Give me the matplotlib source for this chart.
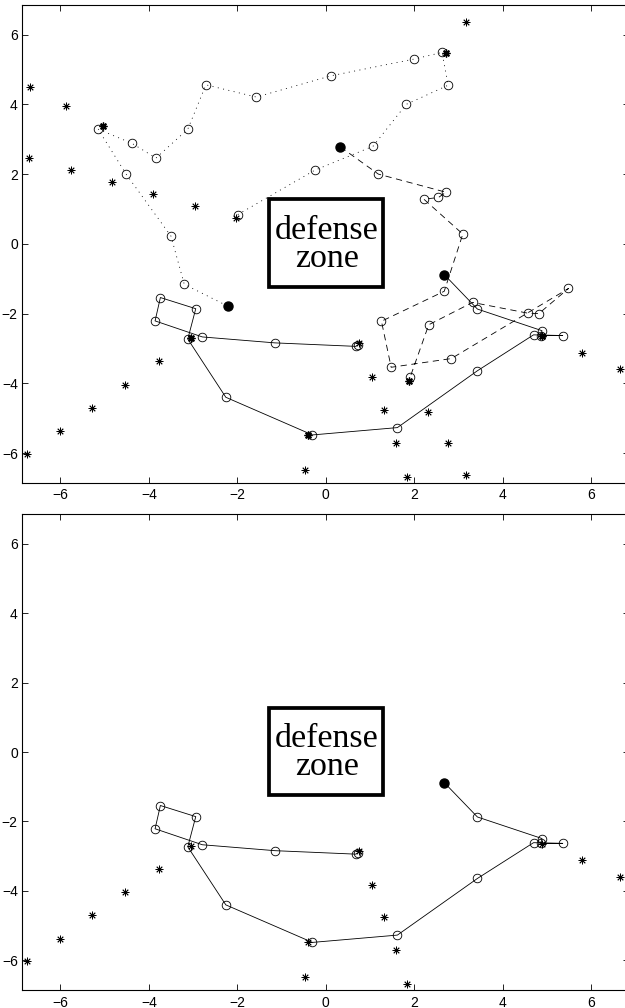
"""Two panels: player trajectories around the defense zone."""

import matplotlib
matplotlib.use("Agg")
import matplotlib.pyplot as plt
from matplotlib.patches import Rectangle

plt.rcParams['font.family'] = 'Liberation Sans'
plt.rcParams['lines.scale_dashes'] = False

# =============================================================================
# Trajectories (open circles)
dotted_x = [-1.99, -0.25, 1.07, 1.82, 2.77, 2.63, 2.00, 0.12, -1.57, -2.71,
            -3.12, -3.84, -4.38, -5.15, -4.51, -3.50, -3.20]
dotted_y = [0.84, 2.11, 2.80, 4.00, 4.55, 5.49, 5.30, 4.82, 4.21, 4.56,
            3.29, 2.46, 2.88, 3.29, 1.99, 0.22, -1.16]
dotted_end = (-2.21, -1.79)

dashed_x = [1.19, 2.72, 2.55, 2.22, 3.10, 2.68, 1.26, 1.48, 2.84, 5.49,
            4.82, 4.58, 3.32, 2.33, 1.91]
dashed_y = [2.00, 1.48, 1.33, 1.28, 0.28, -1.36, -2.22, -3.54, -3.29, -1.28,
            -2.00, -1.99, -1.68, -2.32, -3.82]
dashed_end = (0.33, 2.78)

solid_x = [3.43, 4.89, 4.87, 5.36, 4.70, 3.43, 1.62, -0.30, -2.26, -3.12,
           -2.94, -3.74, -3.86, -2.79, -1.15, 0.68, 0.72]
solid_y = [-1.87, -2.49, -2.63, -2.63, -2.61, -3.64, -5.27, -5.48, -4.40, -2.73,
           -1.86, -1.54, -2.21, -2.67, -2.84, -2.94, -2.90]
solid_end = (2.68, -0.88)

# Asterisks
solid_star_x = [-3.05, -3.78, -4.54, -5.28, -6.02, -6.76, -0.40, -0.47,
                0.76, 1.05, 1.31, 1.58, 1.84, 4.88, 5.80, 6.66]
solid_star_y = [-2.71, -3.37, -4.04, -4.70, -5.37, -6.02, -5.47, -6.49,
                -2.84, -3.82, -4.76, -5.71, -6.69, -2.65, -3.12, -3.60]
dashed_star_x = [1.88, 2.31, 2.76, 3.18]
dashed_star_y = [-3.93, -4.83, -5.71, -6.63]
dotted_star_x = [-2.02, -2.96, -3.90, -4.83, -5.77, -6.71, -5.04, -5.87,
                 -6.70, 2.72, 3.17]
dotted_star_y = [0.74, 1.08, 1.43, 1.77, 2.11, 2.46, 3.39, 3.94,
                 4.50, 5.48, 6.35]
# asterisks that look heavier in the upper panel
bold_star_x = [-5.04, 2.72, -3.05, -0.40, 4.88, 1.88]
bold_star_y = [3.39, 5.48, -2.71, -5.47, -2.65, -3.93]

ticks = [-6, -4, -2, 0, 2, 4, 6]
zone_label = "defense\nzone"

# -----------------------------------------------------------------------------
circ = dict(marker='o', ms=6.2, mfc='none', mec='black', mew=0.6, color='black')
star = dict(marker=(8, 2, 0), ms=5.5, mew=0.6, color='black', ls='none')
dot = dict(marker='o', ms=6.5, color='black', ls='none')


def draw_zone(ax):
    ax.add_patch(Rectangle((-1.29, -1.25), 2.58, 2.53, fill=False,
                           ec='black', lw=2.7, joinstyle='miter', zorder=5))
    ax.text(0.03, -0.03, zone_label, ha='center', va='center',
            multialignment='center', family='Liberation Serif', fontsize=24.5,
            linespacing=0.88, zorder=5)


def style_axes(ax):
    ax.set_xlim(-6.87, 6.85)
    ax.set_ylim(-6.85, 6.85)
    ax.set_xticks(ticks)
    ax.set_yticks(ticks)
    ax.tick_params(direction='in', length=4.3, width=0.6, labelsize=10,
                   top=True, right=True)
    ax.tick_params(axis='x', pad=4)
    ax.tick_params(axis='y', pad=3)
    for s in ax.spines.values():
        s.set_linewidth(0.8)


fig = plt.figure(figsize=(6.25, 10.08), dpi=100)
ax_top = fig.add_axes([22 / 625, 1 - 482.7 / 1008, 606.6 / 625, 477.7 / 1008])
ax_bot = fig.add_axes([22 / 625, 1 - 990 / 1008, 606.6 / 625, 476 / 1008])

# Step 1: upper panel, all three trajectories
ax = ax_top
ax.plot(dotted_x + [dotted_end[0]], dotted_y + [dotted_end[1]],
        ls=(0, (0.7, 3.2)), lw=0.6, color='black')
ax.plot(dotted_x, dotted_y, ls='none', **circ)
ax.plot([dashed_end[0]] + dashed_x, [dashed_end[1]] + dashed_y,
        ls=(0, (4.5, 3.3)), lw=0.6, color='black')
ax.plot(dashed_x, dashed_y, ls='none', **circ)
ax.plot([solid_end[0]] + solid_x, [solid_end[1]] + solid_y, lw=0.6, color='black')
ax.plot(solid_x, solid_y, ls='none', **circ)
ax.plot(solid_star_x, solid_star_y, **star)
ax.plot(dashed_star_x, dashed_star_y, **star)
ax.plot(dotted_star_x, dotted_star_y, **star)
ax.plot(bold_star_x, bold_star_y, **dict(star, mew=1.0))
ax.plot([dotted_end[0], dashed_end[0], solid_end[0]],
        [dotted_end[1], dashed_end[1], solid_end[1]], **dot)
draw_zone(ax)
style_axes(ax)

# Step 2: lower panel, solid trajectory only
ax = ax_bot
ax.plot([solid_end[0]] + solid_x, [solid_end[1]] + solid_y, lw=0.6, color='black')
ax.plot(solid_x, solid_y, ls='none', **circ)
ax.plot(solid_star_x, solid_star_y, **star)
ax.plot([solid_end[0]], [solid_end[1]], **dot)
draw_zone(ax)
style_axes(ax)

fig.savefig("out.png", dpi=100)
